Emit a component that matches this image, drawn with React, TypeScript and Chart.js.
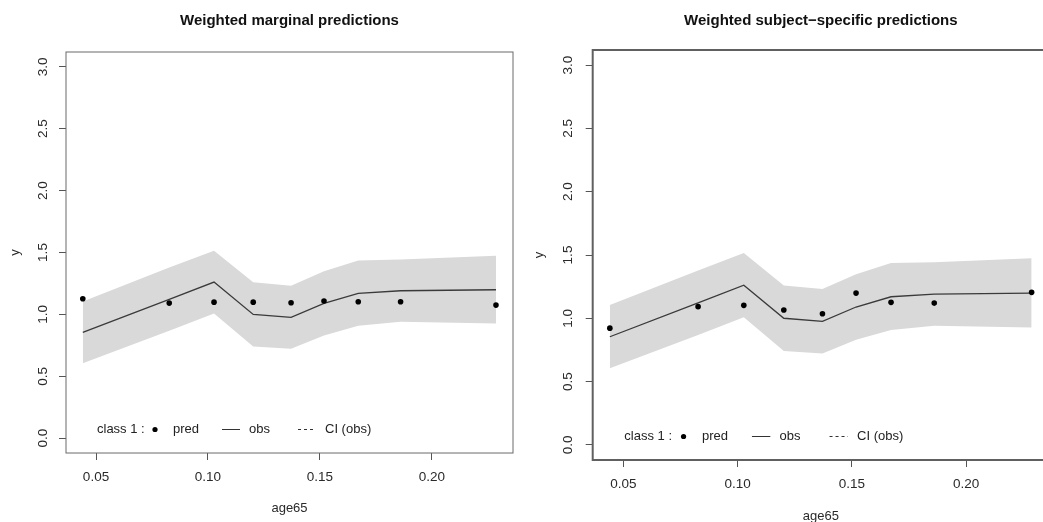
import React, { useEffect, useRef } from "react";
import { Chart, registerables } from "chart.js";

Chart.register(...registerables);

// ---- data ----
const ageValues = [0.0441, 0.0827, 0.1027, 0.1202, 0.1371, 0.1518, 0.1671, 0.186, 0.2286];
const obsValues = [0.854, 1.122, 1.261, 1.0, 0.976, 1.089, 1.17, 1.191, 1.199];
const ciLower = [0.606, 0.867, 1.008, 0.741, 0.722, 0.83, 0.908, 0.94, 0.927];
const ciUpper = [1.104, 1.378, 1.515, 1.259, 1.232, 1.348, 1.436, 1.443, 1.474];
const predMarginal = [1.126, 1.091, 1.099, 1.099, 1.094, 1.108, 1.102, 1.102, 1.075];
const predSubject = [0.922, 1.092, 1.102, 1.065, 1.036, 1.199, 1.126, 1.12, 1.205];
const xTicks = [0.05, 0.1, 0.15, 0.2];
const yTicks = [0, 0.5, 1.0, 1.5, 2.0, 2.5, 3.0];
const xRange = [0.0366, 0.2362];
const yRange = [-0.12, 3.12];
const titles = ["Weighted marginal predictions", "Weighted subject\u2212specific predictions"];
const legendLabels = ["class 1 :", "pred", "obs", "CI (obs)"];
const xTitle = "age65";
const yTitle = "y";

const FONT = "'Liberation Sans', Arial, Helvetica, sans-serif";

type PanelCfg = {
  title: string;
  pred: number[];
  yAxisWidth: number;
  xAxisHeight: number;
  rightPad: number;
  titlePadTop: number;
  titlePadBottom: number;
  yTickPad: number;
  yTitlePad: number;
  xTickPad: number;
  xTitlePad: number;
  boxWidth: number;
  boxColor: string;
};

const pts = (ys: number[]) => ys.map((y, i) => ({ x: ageValues[i], y }));

function makeBoxLegendPlugin(cfg: PanelCfg) {
  return {
    id: "rbox",
    afterDatasetsDraw(chart: any) {
      const { ctx, chartArea } = chart;
      ctx.save();
      ctx.strokeStyle = cfg.boxColor;
      ctx.lineWidth = cfg.boxWidth;
      ctx.strokeRect(chartArea.left, chartArea.top, chartArea.right - chartArea.left, chartArea.bottom - chartArea.top);

      // legend
      const s = (chartArea.right - chartArea.left) / 447;
      const L = chartArea.left;
      const y = chartArea.bottom - 23.5;
      ctx.fillStyle = "#222";
      ctx.strokeStyle = "#333";
      ctx.font = `13px ${FONT}`;
      ctx.textBaseline = "middle";
      ctx.textAlign = "left";
      ctx.fillText(legendLabels[0], L + 31 * s, y);
      ctx.fillStyle = "#000";
      ctx.beginPath();
      ctx.arc(L + 89 * s, y, 2.6, 0, Math.PI * 2);
      ctx.fill();
      ctx.fillStyle = "#222";
      ctx.fillText(legendLabels[1], L + 107 * s, y);
      ctx.lineWidth = 1;
      ctx.beginPath();
      ctx.moveTo(L + 156 * s, y);
      ctx.lineTo(L + 174 * s, y);
      ctx.stroke();
      ctx.fillText(legendLabels[2], L + 183 * s, y);
      ctx.setLineDash([3, 3]);
      ctx.beginPath();
      ctx.moveTo(L + 232 * s, y);
      ctx.lineTo(L + 250 * s, y);
      ctx.stroke();
      ctx.setLineDash([]);
      ctx.fillText(legendLabels[3], L + 259 * s, y);
      ctx.restore();
    },
  };
}

function Panel({ cfg, left, width }: { cfg: PanelCfg; left: number; width: number }) {
  const ref = useRef<HTMLCanvasElement>(null);
  useEffect(() => {
    if (!ref.current) return;
    const chart = new Chart(ref.current, {
      type: "scatter",
      data: {
        datasets: [
          {
            label: "pred",
            data: pts(cfg.pred),
            showLine: false,
            pointRadius: 2.8,
            pointBackgroundColor: "#000",
            pointBorderWidth: 0,
            borderColor: "#000",
          },
          {
            label: "obs",
            data: pts(obsValues),
            showLine: true,
            borderColor: "#3a3a3a",
            borderWidth: 1.3,
            pointRadius: 0,
            fill: false,
          },
          {
            label: "upper",
            data: pts(ciUpper),
            showLine: true,
            borderColor: "rgba(0,0,0,0)",
            borderWidth: 0,
            pointRadius: 0,
            backgroundColor: "#d9d9d9",
            fill: "+1",
          },
          {
            label: "lower",
            data: pts(ciLower),
            showLine: true,
            borderColor: "rgba(0,0,0,0)",
            borderWidth: 0,
            pointRadius: 0,
            fill: false,
          },
        ],
      },
      options: {
        animation: false,
        responsive: false,
        maintainAspectRatio: false,
        events: [],
        layout: { padding: { left: 0, right: cfg.rightPad, top: 0, bottom: 0 } },
        plugins: {
          legend: { display: false },
          tooltip: { enabled: false },
          title: {
            display: true,
            text: cfg.title,
            fullSize: false,
            color: "#111",
            font: { family: FONT, size: 15, weight: "bold" },
            padding: { top: cfg.titlePadTop, bottom: cfg.titlePadBottom },
          },
        },
        scales: {
          x: {
            type: "linear",
            min: xRange[0],
            max: xRange[1],
            afterBuildTicks: (s: any) => {
              s.ticks = xTicks.map((v) => ({ value: v }));
            },
            afterFit: (s: any) => {
              s.height = cfg.xAxisHeight;
            },
            border: { display: false },
            grid: { display: true, drawOnChartArea: false, drawTicks: true, tickLength: 7, color: "#555", lineWidth: 1 },
            ticks: {
              autoSkip: false,
              minRotation: 0,
              maxRotation: 0,
              padding: cfg.xTickPad,
              color: "#2a2a2a",
              font: { family: FONT, size: 13.5 },
              callback: (v: any) => Number(v).toFixed(2),
            },
            title: {
              display: true,
              text: xTitle,
              color: "#2a2a2a",
              font: { family: FONT, size: 13 },
              padding: { top: 0, bottom: cfg.xTitlePad },
            },
          },
          y: {
            type: "linear",
            min: yRange[0],
            max: yRange[1],
            afterBuildTicks: (s: any) => {
              s.ticks = yTicks.map((v) => ({ value: v }));
            },
            afterFit: (s: any) => {
              s.width = cfg.yAxisWidth;
            },
            border: { display: false },
            grid: { display: true, drawOnChartArea: false, drawTicks: true, tickLength: 7, color: "#555", lineWidth: 1 },
            ticks: {
              autoSkip: false,
              minRotation: 90,
              maxRotation: 90,
              crossAlign: "center",
              padding: cfg.yTickPad,
              color: "#2a2a2a",
              font: { family: FONT, size: 13.5 },
              callback: (v: any) => Number(v).toFixed(1),
            },
            title: {
              display: true,
              text: yTitle,
              color: "#2a2a2a",
              font: { family: FONT, size: 13 },
              padding: { top: cfg.yTitlePad, bottom: 0 },
            },
          },
        },
      },
      plugins: [makeBoxLegendPlugin(cfg)],
    } as any);
    return () => chart.destroy();
  }, []);
  return (
    <canvas
      ref={ref}
      width={width}
      height={530}
      style={{ position: "absolute", left, top: 0, width, height: 530 }}
    />
  );
}

const leftCfg: PanelCfg = {
  title: titles[0],
  pred: predMarginal,
  yAxisWidth: 66,
  xAxisHeight: 77,
  rightPad: 8,
  titlePadTop: 12,
  titlePadBottom: 22,
  yTickPad: 6.5,
  yTitlePad: 7.2,
  xTickPad: 9.2,
  xTitlePad: 14.2,
  boxWidth: 1,
  boxColor: "#6a6a6a",
};

const rightCfg: PanelCfg = {
  title: titles[1],
  pred: predSubject,
  yAxisWidth: 71.7,
  xAxisHeight: 70,
  rightPad: 8,
  titlePadTop: 12,
  titlePadBottom: 20,
  yTickPad: 8.2,
  yTitlePad: 10.2,
  xTickPad: 9.2,
  xTitlePad: 6.2,
  boxWidth: 2,
  boxColor: "#606060",
};

export default function App() {
  return (
    <div
      style={{
        position: "fixed",
        left: 0,
        top: 0,
        width: 1043,
        height: 522,
        overflow: "hidden",
        background: "#fff",
      }}
    >
      <Panel cfg={leftCfg} left={0} width={521} />
      <Panel cfg={rightCfg} left={521} width={536} />
    </div>
  );
}
